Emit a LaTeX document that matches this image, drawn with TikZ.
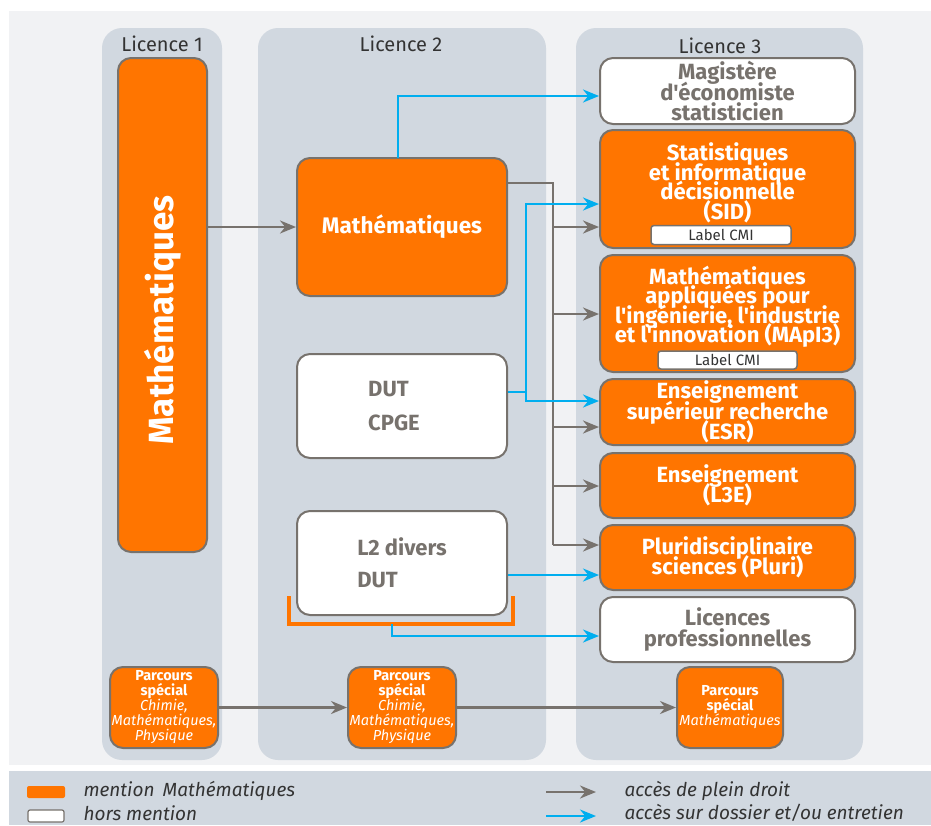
\documentclass[tikz,border=0pt]{standalone}
\usepackage{fontspec}
\setmainfont{Fira Sans}[Ligatures=TeXOff]
\usetikzlibrary{arrows.meta}
\definecolor{ul_orange}{RGB}{255, 117, 0}
\definecolor{ul_grey}{RGB}{119, 114, 109}
\definecolor{ul_blue}{RGB}{0, 174, 239}
\definecolor{ul_col}{RGB}{209, 216, 224}
\definecolor{ul_bg}{RGB}{241, 242, 244}
\definecolor{ul_text}{RGB}{51, 51, 51}
\tikzstyle{ob}=[rectangle,rounded corners=13pt,fill=ul_orange,draw=ul_grey,
  line width=2pt,text=white,align=center,inner sep=0pt,
  font={\bfseries\fontsize{22}{20.5}\selectfont\lineskiplimit=-50pt}]
\tikzstyle{tight}=[font={\bfseries\fontsize{22}{19.5}\selectfont\lineskiplimit=-50pt}]
\tikzstyle{wb}=[ob,fill=white,text=ul_grey]
\tikzstyle{pb}=[ob,font={\fontsize{14.5}{15}\selectfont\lineskiplimit=-50pt}]
\tikzstyle{cmi}=[rectangle,rounded corners=3pt,fill=white,draw=ul_grey,
  line width=1.5pt,inner sep=0pt,text=ul_text,font=\fontsize{15}{15}\selectfont]
\tikzstyle{coltitle}=[text=ul_text,font=\fontsize{20}{20}\selectfont]
\tikzstyle{legtext}=[anchor=west,text=ul_text,font=\itshape\fontsize{19}{19}\selectfont]
\tikzstyle{garrow}=[draw=ul_grey,line width=2.5pt,-{Stealth[length=16pt,width=13pt]}]
\tikzstyle{barrow}=[garrow,draw=ul_blue]
\begin{document}
\begin{tikzpicture}[x=1pt,y=-1pt]
    \useasboundingbox (0,0) rectangle (931,825);
    % background and columns
    \fill[ul_bg] (9,11) rectangle (931,765);
    \fill[ul_col] (9,771) rectangle (931,825);
    \fill[ul_col,rounded corners=20pt] (102,28) rectangle (222,760);
    \fill[ul_col,rounded corners=20pt] (258,28) rectangle (546,760);
    \fill[ul_col,rounded corners=20pt] (576,28) rectangle (863,760);
    \node [style=coltitle] (t1) at (162,44) {Licence 1};
    \node [style=coltitle] (t2) at (401,44) {Licence 2};
    \node [style=coltitle] (t3) at (720,46) {Licence 3};

    % Licence 1
    \node [style=ob,minimum width=89pt,minimum height=494pt] (l1math) at (162.5,305)
      {\rotatebox{90}{\fontsize{35}{35}\selectfont Mathématiques\hspace{30pt}}};
    \node [style=pb,minimum width=108pt,minimum height=81pt] (ps1) at (164,707.5)
      {\textbf{Parcours}\\\textbf{spécial}\\\itshape Chimie,\\\itshape Mathématiques,\\\itshape Physique};

    % Licence 2
    \node [style=ob,minimum width=210pt,minimum height=138pt,font=\bfseries\fontsize{22.5}{22.5}\selectfont]
      (l2math) at (402,227) {Mathématiques};
    \node [style=wb,minimum width=210pt,minimum height=104pt,align=left] (dutcpge) at (402,406)
      {DUT\\[13pt]CPGE\hspace*{16pt}};
    \node [style=wb,minimum width=210pt,minimum height=104pt,align=left] (divers) at (402,563)
      {L2 divers\\[12pt]DUT};
    \draw [ul_orange,line width=4pt] (289,596) -- (289,624) -- (513,624) -- (513,596);
    \coordinate (brk) at (392,624);
    \node [style=pb,minimum width=108pt,minimum height=81pt] (ps2) at (402,707.5)
      {\textbf{Parcours}\\\textbf{spécial}\\\itshape Chimie,\\\itshape Mathématiques,\\\itshape Physique};

    % Licence 3
    \node [style=wb,minimum width=255pt,minimum height=66pt] (mag) at (727.5,91)
      {Magistère\\d'économiste\\statisticien};
    \node [style=ob,style=tight,minimum width=255pt,minimum height=118pt] (sid) at (727.5,189)
      {Statistiques\\et informatique\\décisionnelle\\(SID)\\[-4pt]};
    \node [style=cmi,minimum width=140pt,minimum height=19pt] (sidcmi) at (721,235) {Label CMI};
    \node [style=ob,style=tight,minimum width=255pt,minimum height=117pt] (mapi) at (727.5,313.5)
      {Mathématiques\\appliquées pour\\l'ingénierie, l'industrie\\et l'innovation (MApI3)\\[-1pt]};
    \node [style=cmi,minimum width=139pt,minimum height=18pt] (mapicmi) at (727.5,360) {Label CMI};
    \node [style=ob,minimum width=255pt,minimum height=66pt] (esr) at (727.5,412)
      {Enseignement\\supérieur recherche\\(ESR)};
    \node [style=ob,minimum width=255pt,minimum height=65pt] (lthreee) at (727.5,485.5)
      {Enseignement\\(L3E)};
    \node [style=ob,minimum width=255pt,minimum height=65pt] (pluri) at (727.5,557.5)
      {Pluridisciplinaire\\sciences (Pluri)};
    \node [style=wb,minimum width=255pt,minimum height=65pt] (lpro) at (727.5,629.5)
      {Licences\\professionnelles};
    \node [style=pb,minimum width=106pt,minimum height=81pt] (ps3) at (730,707.5)
      {\textbf{Parcours}\\\textbf{spécial}\\\itshape Mathématiques};

    % plein droit
    \draw [style=garrow] (l1math.east |- l2math.west) to (l2math.west);
    \coordinate (gtop) at (553,183);
    \draw [draw=ul_grey,line width=2.5pt] (l2math.east |- gtop) -- (gtop) -- (553,545);
    \draw [style=garrow] (553,227) to (sid.west |- 0,227);
    \draw [style=garrow] (553,314) to (mapi.west |- 0,314);
    \draw [style=garrow] (553,427) to (esr.west |- 0,427);
    \draw [style=garrow] (553,486) to (lthreee.west |- 0,486);
    \draw [style=garrow] (553,545) to (pluri.west |- 0,545);
    \draw [style=garrow] (ps1.east) to (ps2.west);
    \draw [style=garrow] (ps2.east) to (ps3.west);

    % dossier et/ou entretien
    \draw [style=barrow] (398,158) |- (mag.west |- 0,96);
    \draw [style=barrow] (dutcpge.east |- 0,392) -- (526,392) |- (sid.west |- 0,204);
    \draw [style=barrow] (526,392) |- (esr.west |- 0,401);
    \draw [style=barrow] (divers.east |- 0,575) to (pluri.west |- 0,575);
    \draw [style=barrow] (brk) |- (lpro.west |- 0,636);

    % legend
    \node [fill=ul_orange,rounded corners=2pt,minimum width=38pt,minimum height=12pt] (legor) at (46,792) {};
    \node [fill=white,draw=ul_grey,line width=1.2pt,rounded corners=2pt,minimum width=36pt,minimum height=12pt] (legwh) at (46,816) {};
    \node [style=legtext] (legt1) at (80,791) {mention\, Mathématiques};
    \node [style=legtext] (legt2) at (80,813) {hors mention};
    \coordinate (lga) at (546,792);
    \coordinate (lgb) at (596,792);
    \coordinate (lgc) at (546,816);
    \coordinate (lgd) at (596,816);
    \draw [style=garrow] (lga) to (lgb);
    \draw [style=barrow] (lgc) to (lgd);
    \node [style=legtext] (legt3) at (621,791) {accès de plein droit};
    \node [style=legtext] (legt4) at (621,813) {accès sur dossier et/ou entretien};
  \end{tikzpicture}
\end{document}
